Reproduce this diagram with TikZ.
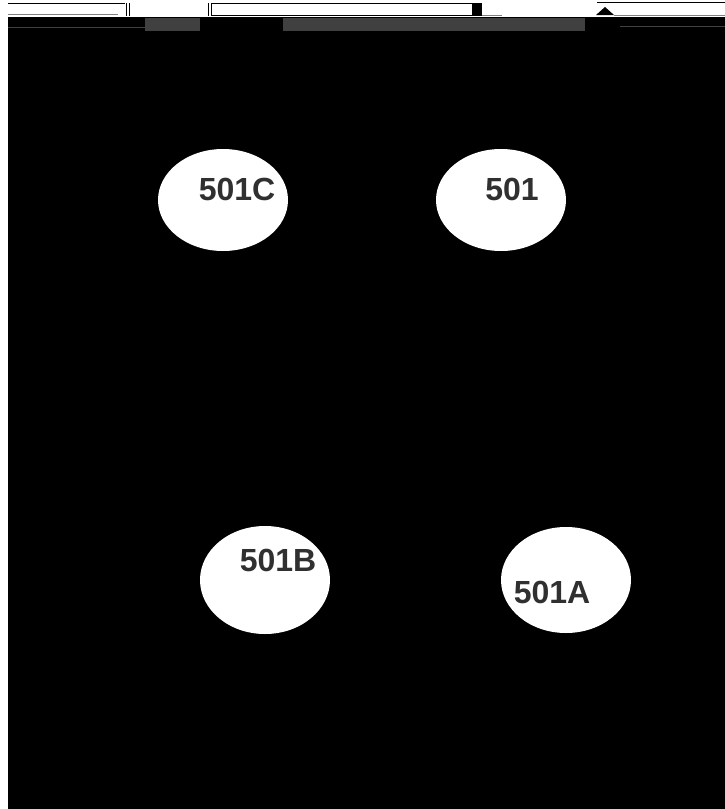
\documentclass[tikz,border=0pt]{standalone}
\usepackage{fontspec}
\setmainfont{Liberation Sans}
\usetikzlibrary{shapes.geometric}
\definecolor{txt}{HTML}{303030}
\definecolor{band}{HTML}{404040}
\tikzset{
  blob/.style={ellipse, fill=white, draw=none, inner sep=0pt, minimum width=130pt, minimum height=102pt},
  lbl/.style={font=\bfseries\fontsize{32}{32}\selectfont, text=txt, inner sep=0pt},
  thin/.style={line width=1pt, draw=black}
}
\begin{document}
\begin{tikzpicture}[x=1pt,y=-1pt]
\useasboundingbox (0,0) rectangle (725,809);
\fill[white] (0,0) rectangle (725,809);
% main black field
\fill[black] (8,17) rectangle (725,809);
% grey bands in header
\fill[band] (145,18) rectangle (200,31);
\fill[band] (283,18) rectangle (585,31);
\draw[band, line width=0.8pt] (8,27) -- (145,27);
\draw[band, line width=0.8pt] (620,26) -- (725,26);
% header strip
\draw[gray, line width=1.2pt] (8,14.5) -- (118,14.5);
\draw[thin] (8,3.5) -- (125,3.5);
\draw[thin] (126,3) -- (126,16);
\draw[thin] (129,3) -- (129,16);
\draw[thin] (208,3) -- (208,16);
\draw[thin] (211,3) -- (211,16);
\draw[thin] (211,3.5) -- (472,3.5);
\draw[thin] (211,15) -- (472,15);
\fill[black] (472,3) rectangle (482,16);
\draw[gray, line width=1.2pt] (482,15.5) -- (502,15.5);
\draw[thin] (597,2.5) -- (725,2.5);
\fill[black] (596,15) -- (605,7) -- (614,15) -- cycle;
\draw[gray, line width=1.2pt] (614,15.5) -- (725,15.5);
% ellipses
\node[blob] (e501C) at (223,200) {};
\node[blob] (e501)  at (501,200) {};
\node[blob, minimum height=108pt] (e501B) at (265,580) {};
\node[blob, minimum height=106pt] (e501A) at (566,580) {};
% labels
\node[lbl] (t501C) at (237,189) {501C};
\node[lbl] (t501)  at (512,189) {501};
\node[lbl] (t501B) at (278,560) {501B};
\node[lbl] (t501A) at (552,592) {501A};
\end{tikzpicture}
\end{document}
